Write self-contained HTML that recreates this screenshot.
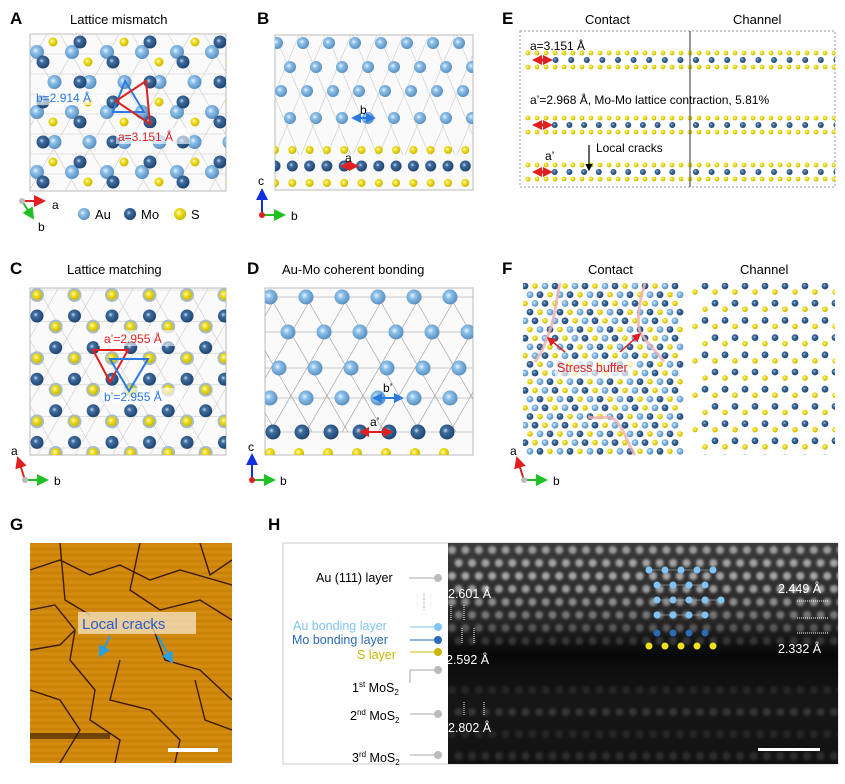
<!DOCTYPE html>
<html><head><meta charset="utf-8"><style>
body{margin:0;background:#fff;}
svg{display:block;font-family:"Liberation Sans",Arial,sans-serif;}
</style></head><body>
<svg id="fig" width="845" height="784" viewBox="0 0 845 784">
<defs>
<radialGradient id="gAu" cx="40%" cy="40%" r="60%"><stop offset="0" stop-color="#e8f4ff"/><stop offset="0.35" stop-color="#8cc0ea"/><stop offset="1" stop-color="#5a90c0"/></radialGradient>
<radialGradient id="gMo" cx="40%" cy="40%" r="60%"><stop offset="0" stop-color="#c8dcf0"/><stop offset="0.3" stop-color="#3f6e9f"/><stop offset="1" stop-color="#1f4470"/></radialGradient>
<radialGradient id="gS" cx="40%" cy="40%" r="60%"><stop offset="0" stop-color="#fffbd0"/><stop offset="0.4" stop-color="#f0de1c"/><stop offset="1" stop-color="#c8b800"/></radialGradient>
<linearGradient id="hbg" x1="0" y1="0" x2="0" y2="1"><stop offset="0" stop-color="#3a3a3a"/><stop offset="0.35" stop-color="#262626"/><stop offset="0.5" stop-color="#080808"/><stop offset="0.7" stop-color="#161616"/><stop offset="1" stop-color="#121212"/></linearGradient>
<clipPath id="cA"><rect x="30" y="34" width="196" height="157"/></clipPath>
<clipPath id="cB"><rect x="275" y="35" width="198" height="155"/></clipPath>
<clipPath id="cC"><rect x="30" y="288" width="196" height="167"/></clipPath>
<clipPath id="cD"><rect x="265" y="288" width="208" height="167"/></clipPath>
<clipPath id="cE"><rect x="520" y="31" width="315" height="156"/></clipPath>
<clipPath id="cF"><rect x="523" y="283" width="312" height="172"/></clipPath>
<clipPath id="cG"><rect x="30" y="543" width="202" height="220"/></clipPath>
<clipPath id="cH"><rect x="448" y="543" width="390" height="221"/></clipPath>
<marker id="arR" markerWidth="6" markerHeight="6" refX="5" refY="3" orient="auto"><path d="M0,0L6,3L0,6z" fill="#e02020"/></marker>
<marker id="arG" markerWidth="6" markerHeight="6" refX="5" refY="3" orient="auto"><path d="M0,0L6,3L0,6z" fill="#20c020"/></marker>
<marker id="arB" markerWidth="6" markerHeight="6" refX="5" refY="3" orient="auto"><path d="M0,0L6,3L0,6z" fill="#1030e0"/></marker>
<marker id="arC" markerWidth="6" markerHeight="6" refX="5" refY="3" orient="auto"><path d="M0,0L6,3L0,6z" fill="#2aa0e0"/></marker>
<marker id="arK" markerWidth="6" markerHeight="6" refX="5" refY="3" orient="auto"><path d="M0,0L6,3L0,6z" fill="#000"/></marker>
<marker id="arBl" markerWidth="5" markerHeight="5" refX="4" refY="2.5" orient="auto-start-reverse"><path d="M0,0L5,2.5L0,5z" fill="#2a7ae0"/></marker>
<marker id="arRd" markerWidth="5" markerHeight="5" refX="4" refY="2.5" orient="auto-start-reverse"><path d="M0,0L5,2.5L0,5z" fill="#e02020"/></marker>
<filter id="blur"><feGaussianBlur stdDeviation="1.3"/></filter>
</defs>

<g id="panelA">
<text x="10" y="24" font-size="17" font-weight="bold">A</text>
<text x="70" y="24" font-size="13">Lattice mismatch</text>
<rect x="30" y="34" width="196" height="157" fill="#fafafa" stroke="#bbb"/>
<g id="atA" clip-path="url(#cA)"></g>
<rect x="36" y="89" width="70" height="16" fill="#fff" opacity="0.6"/>
<rect x="116" y="128" width="74" height="16" fill="#fff" opacity="0.6"/>
<polygon points="125,81 113,112 144,112" fill="none" stroke="#2a7ae0" stroke-width="2"/>
<polygon points="146,81 116,101 150,124" fill="none" stroke="#e02020" stroke-width="2"/>
<text x="36" y="102" font-size="12" fill="#2a7ae0">b=2.914 Å</text>
<text x="118" y="141" font-size="12" fill="#e02020">a=3.151 Å</text>
<g><line x1="22" y1="201" x2="44" y2="201" stroke="#e02020" stroke-width="2" marker-end="url(#arR)"/><line x1="22" y1="201" x2="33" y2="218" stroke="#20c020" stroke-width="2" marker-end="url(#arG)"/><circle cx="22" cy="201" r="3" fill="#bbb"/><text x="52" y="209" font-size="12">a</text><text x="38" y="231" font-size="12">b</text></g>
<g>
<circle cx="84" cy="214" r="6" fill="url(#gAu)"/><text x="95" y="219" font-size="13">Au</text>
<circle cx="130" cy="214" r="6" fill="url(#gMo)"/><text x="141" y="219" font-size="13">Mo</text>
<circle cx="180" cy="214" r="6" fill="url(#gS)"/><text x="191" y="219" font-size="13">S</text>
</g>
</g>

<g id="panelB">
<text x="257" y="24" font-size="17" font-weight="bold">B</text>
<rect x="275" y="35" width="198" height="155" fill="#fafafa" stroke="#bbb"/>
<g id="atB" clip-path="url(#cB)"></g>
<line x1="353" y1="118" x2="374" y2="118" stroke="#2a7ae0" stroke-width="2" marker-start="url(#arBl)" marker-end="url(#arBl)"/>
<text x="360" y="114" font-size="12">b</text>
<line x1="342" y1="166" x2="357" y2="166" stroke="#e02020" stroke-width="2" marker-start="url(#arRd)" marker-end="url(#arRd)"/>
<text x="345" y="162" font-size="12">a</text>
<g><line x1="262" y1="215" x2="262" y2="190" stroke="#1030e0" stroke-width="2" marker-end="url(#arB)"/><line x1="262" y1="215" x2="284" y2="215" stroke="#20c020" stroke-width="2" marker-end="url(#arG)"/><circle cx="262" cy="215" r="3" fill="#e02020"/><text x="258" y="185" font-size="12">c</text><text x="291" y="220" font-size="12">b</text></g>
</g>

<g id="panelE">
<text x="502" y="24" font-size="17" font-weight="bold">E</text>
<text x="585" y="24" font-size="13">Contact</text>
<text x="733" y="24" font-size="13">Channel</text>
<rect x="520" y="31" width="315" height="156" fill="#fff" stroke="#999" stroke-dasharray="2,2"/>
<g id="atE" clip-path="url(#cE)"></g>
<line x1="690" y1="31" x2="690" y2="187" stroke="#555" stroke-width="1.2"/>
<text x="530" y="50" font-size="12">a=3.151 Å</text>
<text x="530" y="104" font-size="12">a’=2.968 Å, Mo-Mo lattice contraction, 5.81%</text>
<text x="545" y="160" font-size="12">a’</text>
<text x="596" y="152" font-size="12">Local cracks</text>
<line x1="589" y1="145" x2="589" y2="170" stroke="#000" stroke-width="1.2" marker-end="url(#arK)"/>
</g>

<g id="panelC">
<text x="10" y="274" font-size="17" font-weight="bold">C</text>
<text x="67" y="274" font-size="13">Lattice matching</text>
<rect x="30" y="288" width="196" height="167" fill="#fafafa" stroke="#bbb"/>
<g id="atC" clip-path="url(#cC)"></g>
<rect x="98" y="330" width="78" height="16" fill="#fff" opacity="0.6"/>
<rect x="104" y="388" width="78" height="16" fill="#fff" opacity="0.6"/>
<polygon points="93,350 128,350 110,382" fill="none" stroke="#e02020" stroke-width="2"/>
<polygon points="110,359 148,359 129,391" fill="none" stroke="#2a7ae0" stroke-width="2"/>
<text x="104" y="343" font-size="12" fill="#e02020">a’=2.955 Å</text>
<text x="104" y="401" font-size="12" fill="#2a7ae0">b’=2.955 Å</text>
<g><line x1="25" y1="480" x2="18" y2="458" stroke="#e02020" stroke-width="2" marker-end="url(#arR)"/><line x1="25" y1="480" x2="47" y2="480" stroke="#20c020" stroke-width="2" marker-end="url(#arG)"/><circle cx="25" cy="480" r="3" fill="#bbb"/><text x="11" y="455" font-size="12">a</text><text x="54" y="485" font-size="12">b</text></g>
</g>

<g id="panelD">
<text x="247" y="274" font-size="17" font-weight="bold">D</text>
<text x="282" y="274" font-size="13">Au-Mo coherent bonding</text>
<rect x="265" y="288" width="208" height="167" fill="#fafafa" stroke="#bbb"/>
<g id="atD" clip-path="url(#cD)"></g>
<line x1="374" y1="398" x2="402" y2="398" stroke="#2a7ae0" stroke-width="2" marker-start="url(#arBl)" marker-end="url(#arBl)"/>
<text x="383" y="392" font-size="12">b’</text>
<line x1="361" y1="432" x2="391" y2="432" stroke="#e02020" stroke-width="2" marker-start="url(#arRd)" marker-end="url(#arRd)"/>
<text x="370" y="426" font-size="12">a’</text>
<g><line x1="252" y1="480" x2="252" y2="455" stroke="#1030e0" stroke-width="2" marker-end="url(#arB)"/><line x1="252" y1="480" x2="274" y2="480" stroke="#20c020" stroke-width="2" marker-end="url(#arG)"/><circle cx="252" cy="480" r="3" fill="#e02020"/><text x="248" y="451" font-size="12">c</text><text x="280" y="485" font-size="12">b</text></g>
</g>

<g id="panelF">
<text x="502" y="274" font-size="17" font-weight="bold">F</text>
<text x="588" y="274" font-size="13">Contact</text>
<text x="740" y="274" font-size="13">Channel</text>
<rect x="523" y="283" width="312" height="172" fill="#fff"/>
<g id="atF" clip-path="url(#cF)"></g>
<path d="M560,283 C556,300 555,320 548,335 C545,345 540,355 535,362 M645,283 C640,300 636,320 640,332 C648,345 660,355 664,362 M588,417 C600,420 608,414 615,420 C625,430 628,445 635,455" fill="none" stroke="#f0b0b0" stroke-width="3" opacity="0.8"/>
<rect x="555" y="359" width="78" height="18" fill="#fff" opacity="0.7"/>
<text x="557" y="372" font-size="12.5" fill="#e02020">Stress buffer</text>
<line x1="565" y1="352" x2="548" y2="338" stroke="#e02020" stroke-width="1.5" marker-end="url(#arR)"/>
<line x1="620" y1="352" x2="640" y2="334" stroke="#e02020" stroke-width="1.5" marker-end="url(#arR)"/>
<g><line x1="524" y1="480" x2="517" y2="458" stroke="#e02020" stroke-width="2" marker-end="url(#arR)"/><line x1="524" y1="480" x2="546" y2="480" stroke="#20c020" stroke-width="2" marker-end="url(#arG)"/><circle cx="524" cy="480" r="3" fill="#bbb"/><text x="510" y="455" font-size="12">a</text><text x="553" y="485" font-size="12">b</text></g>
</g>

<g id="panelG">
<text x="10" y="530" font-size="17" font-weight="bold">G</text>
<rect x="30" y="543" width="202" height="220" fill="#d0880a"/>
<g id="gTex" clip-path="url(#cG)"></g>
<rect x="78" y="612" width="118" height="22" fill="#f4e6c8" opacity="0.75"/>
<text x="82" y="629" font-size="15" fill="#2a5ad0">Local cracks</text>
<line x1="110" y1="636" x2="100" y2="656" stroke="#2aa0e0" stroke-width="2" marker-end="url(#arC)"/>
<line x1="158" y1="636" x2="172" y2="662" stroke="#2aa0e0" stroke-width="2" marker-end="url(#arC)"/>
<rect x="168" y="748" width="50" height="4" fill="#fff"/>
</g>

<g id="panelH">
<text x="268" y="530" font-size="17" font-weight="bold">H</text>
<rect x="283" y="543" width="555" height="221" fill="#fff" stroke="#ccc"/>
<rect x="448" y="543" width="390" height="221" fill="url(#hbg)"/>
<g id="hAt" clip-path="url(#cH)" filter="url(#blur)"></g>
<g font-size="12.5">
<text x="316" y="582">Au (111) layer</text>
<text x="293" y="630" fill="#7fc4f4">Au bonding layer</text>
<text x="292" y="644" fill="#2a6ab8">Mo bonding layer</text>
<text x="357" y="659" fill="#c8b800">S layer</text>
<text x="352" y="692">1<tspan font-size="8" dy="-5">st</tspan><tspan dy="5"> MoS</tspan><tspan font-size="8" dy="3">2</tspan></text>
<text x="350" y="720">2<tspan font-size="8" dy="-5">nd</tspan><tspan dy="5"> MoS</tspan><tspan font-size="8" dy="3">2</tspan></text>
<text x="352" y="762">3<tspan font-size="8" dy="-5">rd</tspan><tspan dy="5"> MoS</tspan><tspan font-size="8" dy="3">2</tspan></text>
</g>
<g stroke-width="1">
<line x1="409" y1="578" x2="438" y2="578" stroke="#aaa"/><circle cx="438" cy="578" r="4" fill="#bbb"/>
<line x1="410" y1="627" x2="438" y2="627" stroke="#7fc4f4"/><circle cx="438" cy="627" r="4" fill="#7fc4f4"/>
<line x1="410" y1="640" x2="438" y2="640" stroke="#2a6ab8"/><circle cx="438" cy="640" r="4" fill="#2a6ab8"/>
<line x1="410" y1="652" x2="438" y2="652" stroke="#c8b800"/><circle cx="438" cy="652" r="4" fill="#c8b800"/>
<polyline points="410,683 410,670 438,670" fill="none" stroke="#aaa"/><circle cx="438" cy="670" r="4" fill="#bbb"/>
<line x1="410" y1="714" x2="438" y2="714" stroke="#aaa"/><circle cx="438" cy="714" r="4" fill="#bbb"/>
<line x1="410" y1="755" x2="438" y2="755" stroke="#aaa"/><circle cx="438" cy="755" r="4" fill="#bbb"/>
<line x1="424" y1="593" x2="424" y2="611" stroke="#aaa" stroke-dasharray="1,1"/>
</g>
<g fill="#fff" font-size="12.5">
<text x="448" y="598">2.601 Å</text>
<text x="446" y="664">2.592 Å</text>
<text x="448" y="732">2.802 Å</text>
<text x="778" y="593">2.449 Å</text>
<text x="778" y="653">2.332 Å</text>
</g>
<g stroke="#fff" stroke-dasharray="1,1" stroke-width="1">
<line x1="451" y1="605" x2="451" y2="620"/><line x1="464" y1="605" x2="464" y2="620"/>
<line x1="462" y1="628" x2="462" y2="643"/><line x1="474" y1="628" x2="474" y2="643"/>
<line x1="464" y1="702" x2="464" y2="716"/><line x1="484" y1="702" x2="484" y2="716"/>
<line x1="797" y1="601" x2="828" y2="601"/><line x1="797" y1="618" x2="828" y2="618"/><line x1="797" y1="633" x2="828" y2="633"/>
</g>
<rect x="758" y="748" width="62" height="3" fill="#fff"/>
<g id="hInset"></g>
</g>
</svg>
<script>
const NS='http://www.w3.org/2000/svg';
function mk(tag,attrs,parent){const e=document.createElementNS(NS,tag);for(const k in attrs)e.setAttribute(k,attrs[k]);parent.appendChild(e);return e;}
const fills={Au:'url(#gAu)',Mo:'url(#gMo)',S:'url(#gS)'};
function atom(g,x,y,r,t){const c=mk('circle',{cx:x,cy:y,r:r,fill:fills[t]},g);

return c;}
function ln(g,x1,y1,x2,y2,col){mk('line',{x1,y1,x2,y2,stroke:col||'#ccc','stroke-width':0.6},g);}
(function(){const g=document.getElementById('atA');
for(let y=34;y<=200;y+=20)ln(g,30,y,226,y);
for(let x=-120;x<340;x+=36){ln(g,x,34,x+95,200);ln(g,x+95,34,x,200);}
for(let j=0;j<9;j++)for(let i=-1;i<4;i++){atom(g,53+i*71+(j%2)*35,42+j*20,4.5,'S');}
for(let j=0;j<6;j++)for(let i=-1;i<7;i++){atom(g,37+i*35+(j%2)*17.5,52+j*30,7,'Au');}
for(let j=0;j<9;j++)for(let i=-1;i<4;i++){atom(g,80+i*70-(j%2)*37,42+j*20,6.5,'Mo');}
})();
(function(){const g=document.getElementById('atB');
for(let k=-4;k<14;k++){ln(g,275+k*26,35,325+k*26,155);ln(g,325+k*26,35,275+k*26,155);}
[43,67,91,118].forEach((y,j)=>{for(let i=-1;i<9;i++)atom(g,277+i*26+(j%2)*-13+ (j==2?4:0),y,6,'Au');});
for(let i=0;i<12;i++){atom(g,275+i*17.3,150,4,'S');atom(g,275+i*17.3,166,5.5,'Mo');atom(g,275+i*17.3,183,4,'S');}
})();
(function(){const g=document.getElementById('atC');
for(let y=290;y<460;y+=31.6)ln(g,30,y,226,y);
for(let x=-150;x<400;x+=37.5){ln(g,x,288,x+96,455);ln(g,x+96,288,x,455);}
for(let j=0;j<6;j++){const off=(j%2)*18.7;const ys=295+j*31.6;
for(let i=-1;i<7;i++){const x=37+i*37.5+off;
mk('circle',{cx:x,cy:ys,r:7,fill:'#a8bcc8'},g);atom(g,x,ys,5,'S');
if(j<5)atom(g,x,ys+21,6.5,'Mo');}}
})();
(function(){const g=document.getElementById('atD');
for(let k=-6;k<12;k++){ln(g,270+k*36,297,270+k*36+78,432,'#999');ln(g,270+k*36+78,297,270+k*36,432,'#999');}
for(let y of [297,332,368,398,432])ln(g,265,y,473,y,'#999');
[[297,0],[332,18],[368,9],[398,0]].forEach(([y,o])=>{for(let i=-1;i<7;i++)atom(g,270+i*36+o,y,7.5,'Au');});
for(let i=0;i<7;i++){atom(g,273+i*29,432,7.5,'Mo');atom(g,270+i*29,453,5,'S');}
})();
(function(){const g=document.getElementById('atE');
[[60,0],[125,1],[172,1]].forEach(([y,c])=>{
for(let i=0;i<36;i++){const x=524+i*9;atom(g,x+4,y-7,2.4,'S');atom(g,x+4,y+7,2.4,'S');}
for(let i=0;i<26;i++){const sp=(c&&i<10)?14.7:15.6;const x=540+i*sp;atom(g,x,y,3,'Mo');}
mk('line',{x1:534,y1:y,x2:551,y2:y,stroke:'#e02020','stroke-width':2,'marker-start':'url(#arRd)','marker-end':'url(#arRd)'},g);
});})();
(function(){const g=document.getElementById('atF');
const types=['Mo','Au','S'];
for(let j=0;j<20;j++)for(let i=0;i<16;i++){const x=525+i*10+(j%2)*5,y=286+j*8.7;
if(x<685){const t=types[((i*2+j)%3+3)%3];atom(g,x,y,t=='S'?2.8:3.4,t);}}
for(let j=0;j<11;j++)for(let i=0;i<8;i++){const x=705+i*20+(j%2)*10,y=286+j*17.2;
if(x<840){atom(g,x,y,3.4,'Mo');atom(g,x-10,y+6,2.7,'S');atom(g,x+10,y+6,2.7,'S');}}
})();
(function(){const g=document.getElementById('gTex');
for(let y=543;y<763;y+=3)mk('line',{x1:30,y1:y,x2:232,y2:y,stroke:(y%6?'#b86e00':'#e09a20'),'stroke-width':1,opacity:0.5},g);
const cracks=["30,570 60,560 90,575 120,565 150,580 180,570 232,585","30,610 55,605 75,630 70,660 95,690 90,720 120,740 115,763","60,543 65,600 90,615","140,543 130,590 160,610 200,600 232,620","150,620 165,660 200,670 232,700","30,690 60,700 80,730 60,763","120,660 110,700 150,710 180,740 175,763","200,543 210,575 232,560","30,650 60,645 75,630","195,680 205,720 232,730"];
cracks.forEach(p=>mk('polyline',{points:p,fill:'none',stroke:'#3a1a00','stroke-width':1.4},g));
mk('rect',{x:30,y:733,width:80,height:6,fill:'#301800',opacity:0.6},g);
})();
(function(){const g=document.getElementById('hAt');
const rows=[[550,0.55],[563,0.6],[576,0.62],[589,0.58],[602,0.5],[615,0.4],[628,0.28],[641,0.16],[690,0.08],[712,0.15],[734,0.08],[756,0.12]];
rows.forEach(([y,o],j)=>{for(let i=0;i<30;i++){mk('circle',{cx:452+i*13.4+(j%2)*6.7,cy:y,r:4,fill:'#eee',opacity:o},g);}});
const ins=document.getElementById('hInset');
for(let r=0;r<4;r++)for(let i=0;i<5-(r%2);i++){const x=649+i*16+(r%2)*8+(r==2?8:0),y=570+r*15;
if(i<4-(r%2))mk('line',{x1:x,y1:y,x2:x+16,y2:y,stroke:'#aaa','stroke-width':0.6},ins);
mk('circle',{cx:x,cy:y,r:3.5,fill:'#7fc4f4'},ins);}
for(let i=0;i<4;i++){mk('circle',{cx:657+i*16,cy:633,r:3.5,fill:'#2a6ab8'},ins);}
for(let i=0;i<5;i++){mk('circle',{cx:649+i*16,cy:646,r:3.5,fill:'#f0e020'},ins);}
})();
</script>
</body></html>
